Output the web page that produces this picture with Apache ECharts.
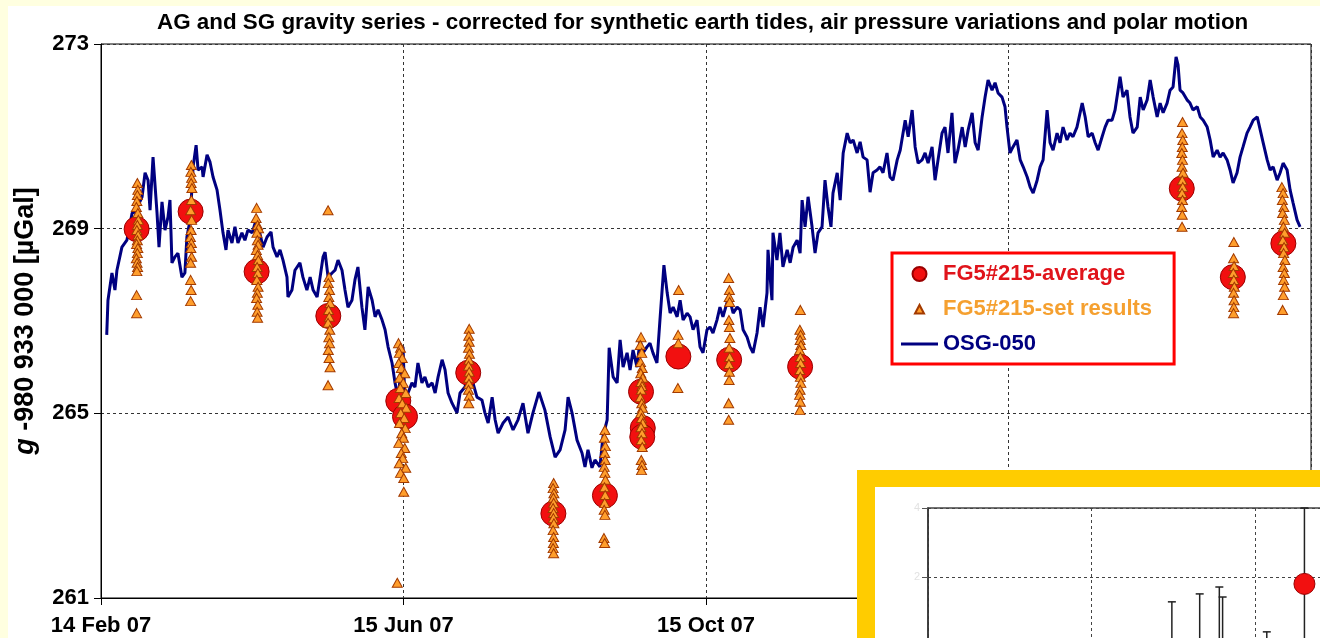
<!DOCTYPE html>
<html>
<head>
<meta charset="utf-8">
<script src="https://cdn.jsdelivr.net/npm/echarts@6/dist/echarts.min.js"></script>
<style>
  html, body { margin: 0; padding: 0; background: #fff; }
  #chart { width: 1320px; height: 638px; }
</style>
</head>
<body>
<div id="chart"></div>
<script>
// x values are days after 14 Feb 2007, y values in µGal (g - 980 933 000)

// OSG-050 superconducting gravimeter series
const osgDays = [
  2.3, 2.8, 4.4, 5.6, 6.4, 8.4, 10.4, 12.5, 13.7, 16.5, 17.7, 18.9, 19.7, 20.9, 21.7, 22.5, 23.3, 24.5, 25.7, 26.9,
  27.7, 28.5, 29.7, 30.9, 32.5, 33.7, 34.5, 35.8, 37.0, 38.2, 39.0, 40.6, 41.0, 42.6, 43.8, 45.0, 46.6, 47.8, 49.0, 50.2,
  51.0, 52.6, 53.8, 55.0, 56.6, 57.8, 59.0, 60.7, 61.9, 63.5, 65.1, 66.7, 68.3, 69.1, 70.7, 71.9, 73.1, 74.7, 75.1, 76.7,
  77.9, 79.9, 81.1, 82.7, 84.0, 85.2, 86.8, 88.0, 89.2, 90.0, 91.2, 92.8, 94.0, 95.2, 96.8, 98.0, 99.2, 100.8, 102.0, 103.2,
  104.8, 106.0, 107.3, 108.9, 110.1, 111.3, 112.9, 114.1, 115.3, 116.9, 118.1, 119.3, 120.9, 121.3, 122.1, 123.3, 124.9, 126.1, 127.3, 128.9,
  130.1, 131.4, 133.0, 134.2, 135.4, 137.0, 138.2, 139.4, 141.0, 143.0, 144.2, 146.2, 148.2, 149.4, 151.0, 153.0, 154.2, 155.5, 157.1, 158.3,
  159.5, 161.5, 163.5, 165.5, 167.5,
  169.5, 171.5, 173.5, 175.9, 178.3, 180.4, 182.4, 184.4, 186.4, 187.6, 189.2, 191.2, 193.2, 194.4, 195.6, 197.2, 198.4, 200.4, 201.6, 203.3,
  204.1, 205.7, 207.3, 208.5, 209.7, 211.3, 212.5, 213.7, 215.3, 216.5, 217.7, 219.3, 220.5, 221.7, 223.3, 224.5, 226.1, 227.4, 228.6, 229.8,
  231.4, 232.6, 233.8, 235.4, 236.6, 237.8, 239.4, 240.6, 241.8, 243.4, 244.6, 245.8, 247.4, 248.6, 249.8, 251.4, 252.6, 253.9, 255.5, 256.7,
  257.9, 259.5, 260.7, 261.9, 263.5, 264.7, 265.9, 267.5, 267.9, 269.5, 269.9, 271.5, 272.7, 273.9, 275.6, 276.8, 278.0, 279.6, 280.8, 281.6,
  282.8, 284.0, 285.6, 286.8, 288.0, 289.6, 290.8, 292.0, 293.2, 294.0, 295.7, 296.9, 298.1, 299.7, 300.9, 302.1, 303.7, 304.9, 306.1, 307.7,
  308.9, 310.1, 311.7, 312.9, 314.1, 315.7, 316.9, 318.1, 319.8,
  321.0, 323.0, 324.2, 325.8, 327.0, 328.2, 329.8, 331.0, 332.2, 333.8, 335.0, 336.2, 337.8, 339.0, 340.2, 341.8, 343.0, 344.2, 345.9, 347.1,
  348.3, 349.9, 351.1, 352.3, 353.9, 355.1, 356.3, 357.9, 359.1, 360.3, 361.9, 363.1, 363.9, 365.1, 366.3, 367.9, 369.2, 370.4, 372.0, 373.2,
  374.4, 376.0, 377.2, 378.4, 380.0, 381.2, 382.4, 384.0, 385.2, 386.4, 388.0, 389.2, 390.4, 392.0, 394.1, 395.3, 396.5, 398.1, 399.3, 400.5,
  402.1, 403.3, 404.5, 406.1, 407.3, 408.5, 409.3, 410.5, 412.1, 413.3, 414.5, 416.2, 417.4, 418.6, 420.2, 421.4, 422.6, 424.2, 425.4, 426.6,
  428.2, 429.4, 430.6, 431.8, 432.6, 433.4, 434.6, 436.2, 437.4, 438.6, 440.3, 441.5, 442.7, 444.3, 445.5, 446.7, 448.3, 449.5, 450.7, 452.3,
  453.5, 454.7, 456.3, 457.5, 458.7, 460.3, 461.5, 462.8, 464.4, 465.6, 466.8, 468.4, 469.6, 470.8, 472.4, 473.6, 474.8, 476.4, 477.6, 478.8,
  480.4, 481.6
];
const osgValues = [
  266.70, 267.45, 268.04, 267.67, 268.10, 268.60, 268.75, 269.34, 269.36, 269.69, 270.21, 270.05, 269.40, 270.55, 270.53, 269.34, 268.60, 269.58, 268.97, 269.25,
  269.62, 268.26, 268.39, 268.47, 267.95, 268.04, 268.82, 269.19, 270.34, 270.81, 270.27, 270.34, 270.12, 270.60, 270.44, 270.12, 269.84, 269.40, 268.91, 268.54,
  268.97, 268.69, 269.04, 268.69, 268.91, 268.75, 268.97, 268.91, 269.12, 268.97, 268.60, 268.82, 268.93, 268.60, 268.39, 268.54, 268.32, 267.95, 267.52, 267.67,
  268.10, 268.26, 267.95, 267.67, 267.95, 267.67, 267.52, 267.95, 268.39, 268.49, 267.95, 268.04, 268.10, 268.32, 268.10, 267.67, 267.30, 267.45, 267.89, 268.17,
  267.30, 266.81, 267.74, 267.45, 267.09, 267.24, 267.02, 266.81, 266.44, 266.09, 265.66, 265.35, 266.09, 266.44, 265.22, 265.44, 265.66, 265.57, 266.09, 265.66,
  265.79, 265.57, 265.66, 265.44, 265.79, 266.16, 265.94, 265.44, 265.22, 265.01, 265.44, 265.57, 265.94, 265.66, 265.35, 265.29, 265.01, 264.79, 265.35, 264.86,
  264.57, 264.79, 264.92, 264.64, 264.86,
  265.22, 264.57, 265.01, 265.46, 265.07, 264.49, 264.05, 264.21, 264.64, 265.35, 265.01, 264.42, 264.14, 263.84, 264.21, 263.82, 263.99, 263.84, 264.49, 264.86,
  266.42, 265.79, 265.66, 266.59, 266.00, 266.31, 265.94, 266.37, 266.00, 266.59, 266.31, 266.44, 266.52, 266.31, 266.09, 267.02, 268.21, 267.61, 267.17, 267.30,
  267.09, 267.45, 267.02, 267.17, 267.09, 266.81, 267.02, 266.44, 266.31, 266.81, 266.87, 266.74, 267.02, 267.30, 267.09, 267.39, 267.45, 267.17, 267.30, 267.24,
  266.81, 266.65, 266.44, 266.31, 266.74, 267.30, 266.87, 267.61, 268.54, 267.45, 268.91, 268.32, 268.91, 268.17, 268.54, 268.26, 268.60, 268.75, 268.47, 269.62,
  269.04, 269.69, 269.04, 268.47, 268.91, 269.04, 270.05, 269.47, 269.04, 269.77, 270.21, 269.62, 270.64, 271.07, 270.86, 270.92, 270.64, 270.88, 270.55, 270.49,
  269.79, 270.21, 270.27, 270.34, 270.21, 270.64, 270.12, 270.05, 270.49,
  270.70, 271.35, 270.99, 271.57, 270.77, 270.42, 270.49, 270.64, 270.42, 270.77, 270.05, 270.49, 271.07, 271.20, 270.64, 271.51, 270.42, 270.70, 271.20, 270.77,
  271.14, 271.51, 270.86, 270.70, 271.42, 271.85, 272.22, 272.00, 272.16, 271.94, 271.85, 271.64, 271.20, 270.64, 270.77, 270.92, 270.49, 270.34, 270.12, 269.90,
  269.77, 270.05, 270.34, 270.49, 271.57, 270.86, 270.70, 271.07, 270.86, 271.20, 270.92, 271.07, 270.99, 271.20, 271.72, 271.42, 270.99, 271.07, 270.86, 270.70,
  270.99, 271.20, 271.35, 271.35, 271.57, 272.00, 272.29, 271.85, 272.00, 271.42, 271.07, 271.20, 271.85, 271.57, 271.79, 272.22, 271.85, 271.42, 271.72, 271.51,
  271.72, 272.00, 272.07, 272.72, 272.55, 272.00, 271.94, 271.79, 271.72, 271.57, 271.64, 271.42, 271.35, 271.20, 270.92, 270.55, 270.70, 270.55, 270.64, 270.49,
  270.27, 269.99, 270.21, 270.55, 270.77, 271.07, 271.20, 271.35, 271.42, 271.14, 270.86, 270.49, 270.27, 270.34, 270.05, 270.21, 270.42, 270.27, 269.84, 269.56,
  269.19, 269.04
];

// FG5#215 campaign averages
const avgDays = [14.3, 36.0, 62.5, 91.3, 119.4, 122.1, 147.5, 181.7, 202.4, 216.9, 217.6, 217.4, 231.9, 252.3, 280.8, 434.1, 454.6, 474.9];
const avgValues = [268.99, 269.37, 268.07, 267.11, 265.27, 264.93, 265.88, 262.83, 263.22, 265.47, 264.68, 264.49, 266.23, 266.16, 266.01, 269.87, 267.95, 268.68];

// FG5#215 single set results
const setDays = [
  14.6, 14.8, 14.6, 14.4, 14.2, 14.8, 15.0, 14.6, 14.4, 14.9, 14.6, 14.3, 14.8, 14.6, 14.2, 14.5, 14.7, 14.4, 14.3, 14.3,
  36.3, 36.1, 36.4, 36.2, 36.5, 36.3, 36.0, 36.4, 36.2, 35.9, 36.3, 36.1, 36.4, 36.0, 36.0, 36.2, 36.0,
  62.5, 62.3, 62.9, 63.3, 62.6, 62.8, 63.1, 62.4, 62.9, 63.2, 62.7, 63.0, 62.6, 63.1, 62.8, 62.5, 63.0, 62.7, 62.9,
  91.2, 91.6, 91.3, 91.8, 91.5, 92.0, 91.4, 91.7, 91.2, 91.9, 91.5, 91.8, 91.3, 91.6, 92.0, 91.2,
  119.5, 120.3, 119.8, 121.0, 119.6, 120.6, 122.0, 119.9, 121.4, 120.2, 122.4, 119.7, 121.0, 122.6, 120.4, 121.8, 119.9, 122.2, 120.8, 121.5,
  119.6, 122.0, 120.6, 121.2, 119.8, 122.4, 120.3, 121.6, 121.6, 119.0,
  147.9, 147.7, 147.9, 147.6, 148.0, 147.8, 147.6, 147.9, 147.7, 147.8, 147.6, 147.9, 147.7,
  181.8, 181.6, 181.9, 181.7, 181.8, 181.6, 181.8, 181.7, 181.9, 181.6, 181.8, 181.7, 181.6, 181.8,
  202.4, 202.2, 202.6, 202.3, 202.5, 202.1, 202.4, 202.6, 202.2, 202.5, 202.3, 202.1, 202.4, 202.0, 202.3,
  216.9, 216.6, 217.2, 216.7, 217.4, 216.8, 217.6, 216.9, 217.3, 217.0, 216.6, 217.2, 217.5, 216.8, 217.1, 217.6, 216.9, 217.3, 217.0, 217.4,
  217.0, 217.3, 217.1,
  232.0, 231.8, 231.9, 231.7,
  252.1, 252.4, 252.3, 252.5, 252.2, 252.4, 252.6, 252.3, 252.5, 252.2, 252.4, 252.3, 252.1, 252.1,
  280.9, 280.7, 281.0, 280.8, 281.1, 280.6, 280.9, 281.0, 280.7, 280.9, 281.1, 280.8, 280.6, 280.9, 280.7,
  434.4, 434.2, 434.5, 434.3, 434.1, 434.4, 434.2, 434.6, 434.3, 434.5, 434.2, 434.4, 434.1, 434.3, 434.2,
  455.0, 454.9, 455.1, 454.8, 455.0, 455.2, 454.9, 455.1, 455.0, 454.9,
  474.3, 474.8, 474.5, 475.1, 474.6, 475.3, 474.9, 475.4, 474.7, 475.2, 475.0, 475.5, 474.8, 475.3, 475.0, 475.4, 474.9, 474.6
];
const setValues = [
  269.99, 269.84, 269.73, 269.60, 269.47, 269.34, 269.19, 269.08, 268.97, 268.86, 268.75, 268.67, 268.58, 268.47, 268.36, 268.26, 268.17, 268.08, 267.56, 267.17,
  270.38, 270.23, 270.10, 269.99, 269.88, 269.62, 269.40, 269.19, 268.97, 268.82, 268.69, 268.58, 268.39, 268.26, 267.89, 267.67, 267.43,
  269.45, 269.23, 269.08, 269.01, 268.91, 268.75, 268.65, 268.54, 268.43, 268.32, 268.17, 268.04, 267.89, 267.74, 267.61, 267.50, 267.35, 267.20, 267.07,
  269.40, 267.95, 267.82, 267.67, 267.52, 267.39, 267.24, 267.09, 266.96, 266.81, 266.65, 266.52, 266.37, 266.20, 266.00, 265.61,
  266.52, 266.42, 266.31, 266.20, 266.09, 265.98, 265.87, 265.77, 265.66, 265.55, 265.44, 265.33, 265.22, 265.12, 265.01, 264.90, 264.79, 264.68, 264.57, 264.47,
  264.36, 264.25, 264.14, 264.03, 263.92, 263.82, 263.71, 263.60, 263.30, 261.33,
  266.83, 266.68, 266.55, 266.42, 266.29, 266.16, 266.03, 265.90, 265.77, 265.64, 265.51, 265.38, 265.22,
  263.49, 263.38, 263.27, 263.17, 263.06, 262.95, 262.84, 262.73, 262.62, 262.47, 262.32, 262.19, 262.08, 261.97,
  264.64, 264.47, 264.29, 264.14, 263.99, 263.84, 263.71, 263.56, 263.40, 263.23, 263.06, 262.91, 262.80, 262.30, 262.19,
  266.65, 266.48, 266.31, 266.11, 265.98, 265.87, 265.77, 265.68, 265.59, 265.51, 265.35, 265.22, 265.12, 265.01, 264.90, 264.79, 264.70, 264.57, 264.42, 264.27,
  263.99, 263.88, 263.77,
  267.67, 266.70, 266.52, 265.55,
  267.93, 267.67, 267.52, 267.41, 267.02, 266.87, 266.63, 266.42, 266.22, 266.07, 265.90, 265.72, 265.22, 264.86,
  267.24, 266.81, 266.70, 266.59, 266.48, 266.37, 266.22, 266.09, 265.94, 265.79, 265.66, 265.51, 265.40, 265.25, 265.07,
  271.31, 271.07, 270.92, 270.77, 270.64, 270.49, 270.34, 270.21, 270.05, 269.90, 269.77, 269.62, 269.47, 269.30, 269.04,
  268.71, 268.36, 268.19, 268.04, 267.89, 267.74, 267.61, 267.45, 267.30, 267.17,
  269.90, 269.77, 269.62, 269.47, 269.34, 269.19, 269.04, 268.91, 268.75, 268.60, 268.47, 268.32, 268.17, 268.04, 267.89, 267.74, 267.56, 267.24
];

// inset chart (partly hidden below the window): error bars and one average
const insetX = [1.49, 1.66, 1.78, 1.80, 2.07, 2.30];
const insetHigh = [1.28, 1.51, 1.71, 1.42, 0.41, 4.0];
const insetLow = [-3, -3, -3, -3, -3, -0.4];
const insetAvgX = [2.30];
const insetAvgY = [1.80];

const FONT = '"Liberation Sans", Arial, Helvetica, sans-serif';
const DAY0 = Date.UTC(2007, 1, 14);
const MONTHS = ['Jan', 'Feb', 'Mar', 'Apr', 'May', 'Jun', 'Jul', 'Aug', 'Sep', 'Oct', 'Nov', 'Dec'];

// legend icons; the extra move-tos keep the 37x14 box so nothing is stretched
const ICON_TRIANGLE = 'path://M0,0 M37,14 M14,11.5 L18.5,3 L23,11.5 Z';
const ICON_LINE = 'path://M0,0 M37,14 M0,5.5 L37,5.5 L37,8.5 L0,8.5 Z';

function dayLabel(d) {
  const t = new Date(DAY0 + d * 86400000);
  return t.getUTCDate() + ' ' + MONTHS[t.getUTCMonth()] + ' ' + String(t.getUTCFullYear()).slice(2);
}

function zip(a, b) {
  const n = Math.min(a.length, b.length);
  const out = [];
  for (let i = 0; i < n; i++) out.push([a[i], b[i]]);
  return out;
}

const chart = echarts.init(document.getElementById('chart'), null, { renderer: 'canvas' });

const option = {
  backgroundColor: '#ffffff',
  animation: false,
  title: {
    text: 'AG and SG gravity series - corrected for synthetic earth tides, air pressure variations and polar motion',
    left: 157,
    top: 12,
    padding: 0,
    textStyle: { fontFamily: FONT, fontSize: 22.4, fontWeight: 'bold', color: '#000' }
  },
  legend: {
    orient: 'vertical',
    left: 892,
    top: 253,
    padding: [10, 22, 9, 8],
    itemGap: 13,
    itemWidth: 37,
    itemHeight: 14,
    symbolKeepAspect: true,
    borderColor: '#ff0000',
    borderWidth: 3,
    borderRadius: 0,
    backgroundColor: '#ffffff',
    selectedMode: false,
    textStyle: { fontFamily: FONT, fontSize: 22, fontWeight: 'bold' },
    data: [
      { name: 'FG5#215-average', icon: 'circle', textStyle: { color: '#e0141b' } },
      { name: 'FG5#215-set results', icon: ICON_TRIANGLE, textStyle: { color: '#f5a030' } },
      { name: 'OSG-050', icon: ICON_LINE, itemStyle: { color: '#000080', borderWidth: 0 }, textStyle: { color: '#000080' } }
    ]
  },
  grid: [
    {
      left: 101, top: 44, width: 1210, height: 554,
      show: true, borderColor: '#000', borderWidth: 1, backgroundColor: '#fff',
      outerBoundsMode: 'none'
    },
    {
      left: 928, top: 508, width: 491, height: 345,
      show: true, borderColor: '#444', borderWidth: 1.5, backgroundColor: 'transparent',
      outerBoundsMode: 'none', z: 110
    }
  ],
  xAxis: [
    {
      type: 'value', gridIndex: 0, min: 0, max: 486, interval: 121.5,
      axisLine: { show: true, lineStyle: { color: '#000', width: 1 } },
      axisTick: { show: true, length: 7, lineStyle: { color: '#000' } },
      axisLabel: {
        formatter: dayLabel, margin: 17,
        fontFamily: FONT, fontSize: 22, fontWeight: 'bold', color: '#000'
      },
      splitLine: { show: true, lineStyle: { type: [3, 3], color: '#333', width: 1 } }
    },
    {
      type: 'value', gridIndex: 1, min: 0, max: 3, interval: 1, z: 110,
      axisLine: { show: true, lineStyle: { color: '#444' } },
      axisTick: { show: false },
      axisLabel: { show: false },
      splitLine: { show: true, lineStyle: { type: [3, 3], color: '#444', width: 1 } }
    }
  ],
  yAxis: [
    {
      type: 'value', gridIndex: 0, min: 261, max: 273, interval: 4,
      name: '{i|g} -980 933 000 [µGal]',
      nameLocation: 'middle',
      nameGap: 62,
      nameRotate: 90,
      nameTextStyle: {
        fontFamily: FONT, fontSize: 27, fontWeight: 'bold', color: '#000',
        rich: { i: { fontFamily: FONT, fontSize: 27, fontWeight: 'bold', fontStyle: 'italic', color: '#000' } }
      },
      axisLine: { show: true, lineStyle: { color: '#000', width: 1 } },
      axisTick: { show: true, length: 7, lineStyle: { color: '#000' } },
      axisLabel: { margin: 12, fontFamily: FONT, fontSize: 22, fontWeight: 'bold', color: '#000' },
      splitLine: { show: true, lineStyle: { type: [3, 3], color: '#333', width: 1 } }
    },
    {
      type: 'value', gridIndex: 1, min: -6, max: 4, interval: 2, z: 110,
      axisLine: { show: true, lineStyle: { color: '#333', width: 1.5 } },
      axisTick: { show: true, length: 6, lineStyle: { color: '#555' } },
      axisLabel: { margin: 8, fontFamily: FONT, fontSize: 11, color: '#e2e2e2' },
      splitLine: { show: true, lineStyle: { type: [3, 3], color: '#444', width: 1 } }
    }
  ],
  graphic: {
    elements: [
      { type: 'rect', z: 100, shape: { x: 0, y: 0, width: 1320, height: 6 }, style: { fill: '#ffffe0' } },
      { type: 'rect', z: 100, shape: { x: 0, y: 0, width: 8, height: 638 }, style: { fill: '#ffffe0' } },
      { type: 'rect', z: 100, shape: { x: 857, y: 470, width: 480, height: 200 }, style: { fill: '#ffcc00' } },
      { type: 'rect', z: 101, shape: { x: 875, y: 487, width: 460, height: 180 }, style: { fill: '#ffffff' } }
    ]
  },
  series: [
    {
      name: 'OSG-050',
      type: 'line',
      xAxisIndex: 0, yAxisIndex: 0,
      data: zip(osgDays, osgValues),
      showSymbol: false,
      symbol: 'none',
      color: '#000080',
      lineStyle: { color: '#000080', width: 3 },
      z: 2
    },
    {
      name: 'FG5#215-average',
      type: 'scatter',
      xAxisIndex: 0, yAxisIndex: 0,
      data: zip(avgDays, avgValues),
      symbol: 'circle',
      symbolSize: 25,
      itemStyle: { color: '#f21010', borderColor: '#9a0000', borderWidth: 1, opacity: 1 },
      z: 3
    },
    {
      name: 'FG5#215-set results',
      type: 'scatter',
      xAxisIndex: 0, yAxisIndex: 0,
      data: zip(setDays, setValues),
      symbol: 'triangle',
      symbolSize: [10, 9],
      itemStyle: { color: '#ff9e2c', borderColor: '#a33a00', borderWidth: 1, opacity: 1 },
      z: 4
    },
    {
      name: 'inset bars',
      type: 'custom',
      xAxisIndex: 1, yAxisIndex: 1,
      z: 120,
      data: insetX.map((x, i) => [x, insetHigh[i], insetLow[i]]),
      encode: { x: 0, y: [1, 2] },
      renderItem: function (params, api) {
        const x = api.value(0);
        const top = api.coord([x, api.value(1)]);
        const bot = api.coord([x, api.value(2)]);
        return {
          type: 'group',
          children: [
            { type: 'line', shape: { x1: top[0], y1: top[1], x2: bot[0], y2: bot[1] }, style: { stroke: '#222', lineWidth: 1.5 } },
            { type: 'line', shape: { x1: top[0] - 4, y1: top[1], x2: top[0] + 4, y2: top[1] }, style: { stroke: '#222', lineWidth: 1.5 } }
          ]
        };
      }
    },
    {
      name: 'inset average',
      type: 'scatter',
      xAxisIndex: 1, yAxisIndex: 1,
      z: 121,
      data: zip(insetAvgX, insetAvgY),
      symbol: 'circle',
      symbolSize: 21,
      itemStyle: { color: '#f21010', borderColor: '#9a0000', borderWidth: 1, opacity: 1 }
    }
  ]
};

chart.setOption(option);
</script>
</body>
</html>
